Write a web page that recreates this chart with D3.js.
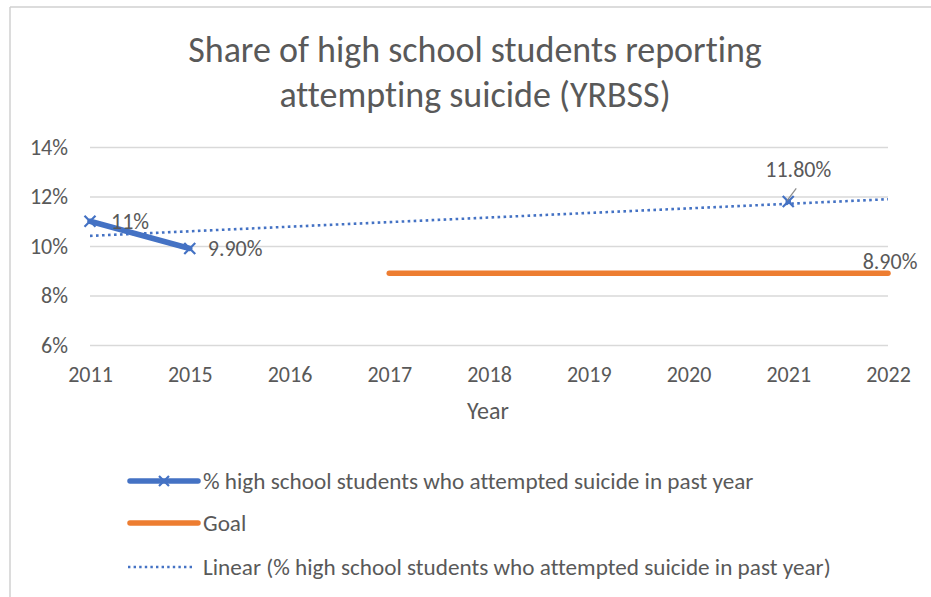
<!DOCTYPE html>
<html>
<head>
<meta charset="utf-8">
<script src="https://cdn.jsdelivr.net/npm/d3@7"></script>
<style>
  html, body { margin: 0; padding: 0; background: #fff; }
  svg { display: block; }
  text { font-family: Calibri, Carlito, Lato, "Noto Sans", sans-serif; fill: #595959; font-variant-ligatures: none; }
</style>
</head>
<body>
<svg id="chart" width="931" height="597"></svg>
<script>
// Survey years on the category axis
const years = ["2011", "2015", "2016", "2017", "2018", "2019", "2020", "2021", "2022"];
// % high school students who attempted suicide in past year (null = no survey value)
const attempted = [11, 9.9, null, null, null, null, null, 11.8, null];
const attemptedLabels = ["11%", "9.90%", null, null, null, null, null, "11.80%", null];
// Goal level
const goal = [null, null, null, 8.9, 8.9, 8.9, 8.9, 8.9, 8.9];
const goalLabels = [null, null, null, null, null, null, null, null, "8.90%"];
// Linear trend endpoints
const trendYears = ["2011", "2022"];
const trendValues = [10.41, 11.89];
// Y axis ticks
const yTicks = [6, 8, 10, 12, 14];

const BLUE = "#4472C4", ORANGE = "#ED7D31", GRID = "#D9D9D9", TEXT = "#595959";
const FONT = "Calibri, Carlito, Lato, 'Noto Sans', sans-serif";

const svg = d3.select("#chart");

// Chart area frame
svg.append("line").attr("x1", 10).attr("x2", 931).attr("y1", 7).attr("y2", 7)
  .attr("stroke", "#D0D0D0").attr("stroke-width", 1.5);
svg.append("line").attr("x1", 10).attr("x2", 10).attr("y1", 7).attr("y2", 597)
  .attr("stroke", "#D0D0D0").attr("stroke-width", 1.5);

// Title
const title = svg.append("text").attr("text-anchor", "middle")
  .style("font-size", "36px");
title.append("tspan").attr("x", 475).attr("y", 62).text("Share of high school students reporting");
title.append("tspan").attr("x", 475).attr("y", 107).text("attempting suicide (YRBSS)");

const x = d3.scalePoint().domain(years).range([90, 888]);
const y = d3.scaleLinear().domain([6, 14]).range([345, 147]);

// Gridlines + y labels
const yAxis = d3.axisLeft(y).tickValues(yTicks)
  .tickSize(-(x.range()[1] - x.range()[0]))
  .tickPadding(22)
  .tickFormat(d => d + "%");
const gy = svg.append("g").attr("transform", `translate(${x.range()[0]},0)`).call(yAxis);
gy.select(".domain").remove();
gy.selectAll(".tick line").attr("stroke", GRID).attr("stroke-width", 1.5);
gy.selectAll(".tick text").attr("fill", TEXT).style("font-size", "22px").style("font-family", FONT);

// X axis labels
const xAxis = d3.axisBottom(x).tickSize(0).tickPadding(21);
const gx = svg.append("g").attr("transform", `translate(0,${y(6)})`).call(xAxis);
gx.select(".domain").remove();
gx.selectAll(".tick text").attr("fill", TEXT).style("font-size", "22px").style("font-family", FONT);

// Axis title
svg.append("text").attr("x", 488).attr("y", 419).attr("text-anchor", "middle")
  .style("font-size", "24px").text("Year");

// Goal line
const lineGen = d3.line().defined(d => d.v != null).x(d => x(d.k)).y(d => y(d.v));
const goalData = years.map((k, i) => ({ k, v: goal[i], label: goalLabels[i] }));
svg.append("path").datum(goalData).attr("d", lineGen)
  .attr("fill", "none").attr("stroke", ORANGE).attr("stroke-width", 5.5)
  .attr("stroke-linecap", "round");

// Trend line
const trendData = trendYears.map((k, i) => ({ k, v: trendValues[i] }));
svg.append("path").datum(trendData).attr("d", lineGen)
  .attr("fill", "none").attr("stroke", BLUE).attr("stroke-width", 2.6)
  .attr("stroke-dasharray", "2.6 3.4");

// Attempted series
const attData = years.map((k, i) => ({ k, v: attempted[i], label: attemptedLabels[i] }));
svg.append("path").datum(attData).attr("d", lineGen)
  .attr("fill", "none").attr("stroke", BLUE).attr("stroke-width", 5.5)
  .attr("stroke-linecap", "round");

const markerPath = s => `M${-s},${-s}L${s},${s}M${-s},${s}L${s},${-s}`;
svg.append("g").selectAll("path").data(attData.filter(d => d.v != null)).join("path")
  .attr("transform", d => `translate(${x(d.k)},${y(d.v)})`)
  .attr("d", markerPath(5.5))
  .attr("stroke", BLUE).attr("stroke-width", 2.2).attr("fill", "none");

// Data labels
const lblStyle = sel => sel.style("font-size", "22px").attr("fill", "#404040");
const att = attData.filter(d => d.v != null);
// 2011 and 2015 labels sit to the right
lblStyle(svg.append("text").attr("x", x(att[0].k) + 21).attr("y", y(att[0].v) + 8).text(att[0].label));
lblStyle(svg.append("text").attr("x", x(att[1].k) + 18).attr("y", y(att[1].v) + 8).text(att[1].label));
// 2021 label above with a leader line
const p21 = { x: x(att[2].k), y: y(att[2].v) };
lblStyle(svg.append("text").attr("x", p21.x + 10).attr("y", p21.y - 24)
  .attr("text-anchor", "middle").text(att[2].label));
svg.append("line").attr("x1", p21.x + 8).attr("y1", p21.y - 13)
  .attr("x2", p21.x - 1).attr("y2", p21.y - 1)
  .attr("stroke", "#8C8C8C").attr("stroke-width", 1.3);
// Goal end label above
const gEnd = goalData.filter(d => d.label)[0];
lblStyle(svg.append("text").attr("x", x(gEnd.k) + 2).attr("y", y(gEnd.v) - 4)
  .attr("text-anchor", "middle").text(gEnd.label));

// Legend
const legend = [
  { name: "% high school students who attempted suicide in past year", type: "series", y: 481 },
  { name: "Goal", type: "goal", y: 523 },
  { name: "Linear (% high school students who attempted suicide in past year)", type: "trend", y: 567 }
];
const lg = svg.append("g");
legend.forEach(it => {
  const l = lg.append("line").attr("x1", 130).attr("x2", 198).attr("y1", it.y).attr("y2", it.y)
    .attr("fill", "none");
  if (it.type === "series") {
    l.attr("stroke", BLUE).attr("stroke-width", 5.5).attr("stroke-linecap", "round");
    lg.append("path").attr("transform", `translate(164,${it.y})`).attr("d", markerPath(5))
      .attr("stroke", BLUE).attr("stroke-width", 2.2);
  } else if (it.type === "goal") {
    l.attr("stroke", ORANGE).attr("stroke-width", 5.5).attr("stroke-linecap", "round");
  } else {
    l.attr("x1", 128).attr("x2", 192).attr("stroke", BLUE).attr("stroke-width", 2.4)
      .attr("stroke-dasharray", "2.4 3.2");
  }
  lg.append("text").attr("x", 203).attr("y", it.y + 8).style("font-size", "23.2px").text(it.name);
});
</script>
</body>
</html>
